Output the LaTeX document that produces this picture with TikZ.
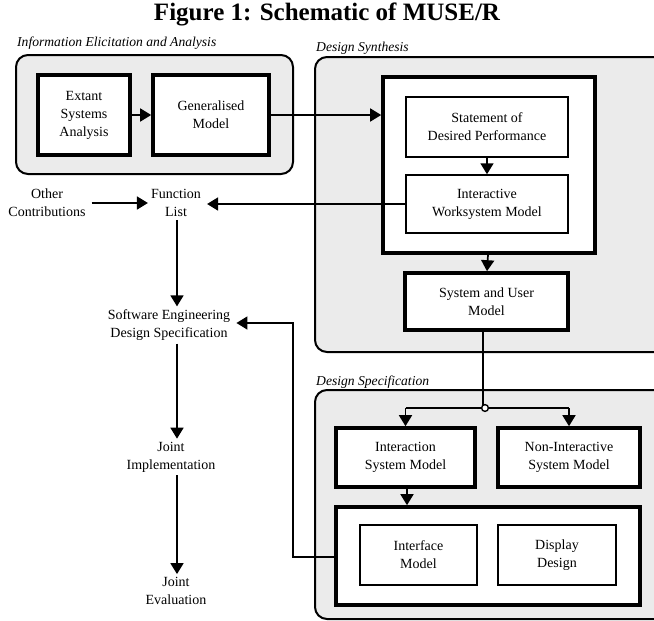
\documentclass[tikz,border=0pt]{standalone}
\usepackage{fontspec}
\setmainfont{Liberation Serif}
\usetikzlibrary{arrows.meta,calc}
\begin{document}
\begin{tikzpicture}[x=1pt,y=-1pt,
  every node/.style={font=\fontsize{14}{18}\selectfont, align=center, inner sep=0pt},
  group/.style={draw=black, line width=2pt, rounded corners=12pt, fill=gray!16},
  grouplabel/.style={anchor=west, font=\fontsize{13.6}{15}\selectfont\itshape},
  heavybox/.style={draw=black, line width=3.6pt, fill=white},
  lightbox/.style={draw=black, line width=1.5pt, fill=white},
  flow/.style={line width=1.7pt, -{Triangle[width=13pt,length=11pt]}},
  link/.style={line width=1.7pt}]
\useasboundingbox (0,0) rectangle (654,621);
\clip (0,0) rectangle (654,621);

% title
\node[font=\fontsize{25}{28}\selectfont\bfseries] (title) at (327,14) {Figure 1: Schematic of MUSE/R};

% grouping panels
\draw[group] (16,55) rectangle (293,174);
\draw[group] (315,57) rectangle (690,352);
\draw[group] (315,390) rectangle (690,619);
\node[grouplabel] (lab1) at (17,43) {Information Elicitation and Analysis};
\node[grouplabel] (lab2) at (316,48) {Design Synthesis};
\node[grouplabel] (lab3) at (316,382) {Design Specification};

% information elicitation
\node[heavybox, minimum width=92pt, minimum height=80pt] (esa) at (84,115) {Extant\\Systems\\Analysis};
\node[heavybox, minimum width=116pt, minimum height=80pt] (gm) at (211,115) {Generalised\\Model};

% design synthesis
\node[heavybox, minimum width=212pt, minimum height=176pt] (synth) at (489,165) {};
\node[lightbox, minimum width=162pt, minimum height=60pt] (sdp) at (487,127) {Statement of\\Desired Performance};
\node[lightbox, minimum width=162pt, minimum height=58pt] (iwm) at (487,204) {Interactive\\Worksystem Model};
\node[heavybox, minimum width=163pt, minimum height=57pt] (sum) at (486.5,301.5) {System and User\\Model};

% design specification
\node[heavybox, minimum width=139pt, minimum height=59pt] (ism) at (405.5,457.5) {Interaction\\System Model};
\node[heavybox, minimum width=142pt, minimum height=59pt] (nism) at (569,457.5) {Non-Interactive\\System Model};
\node[heavybox, minimum width=304pt, minimum height=98pt] (ui) at (488,556) {};
\node[lightbox, minimum width=117pt, minimum height=60pt] (im) at (418.5,555) {Interface\\Model};
\node[lightbox, minimum width=118pt, minimum height=60pt] (dd) at (557,555) {Display\\Design};

% left-hand column
\node (oc) at (47,203) {Other\\Contributions};
\node (fl) at (176,203) {Function\\List};
\node (seds) at (169,325) {Software Engineering\\Design Specification};
\node (ji) at (171,457) {Joint\\Implementation};
\node (je) at (176,591) {Joint\\Evaluation};

% connectors
\draw[flow] (esa.east) -- (gm.west);
\draw[flow] (gm.east) -- (gm.east -| synth.west);
\draw[flow] (sdp.south) -- (iwm.north);
\draw[flow] ($(synth.south)+(-1,0)$) -- ($(sum.north)+(0.5,0)$);
\draw[flow] (iwm.west) -- ($(iwm.west -| fl.east)+(6,0)$);
\draw[flow] ($(oc.east)+(6,0)$) -- ($(fl.west)+(-3,0)$);
\draw[flow] ($(fl.south)+(1,3)$) -- ($(seds.north)+(8,-3)$);
\draw[flow] ($(seds.south)+(8,3)$) -- ($(ji.north)+(6,-3)$);
\draw[flow] ($(ji.south)+(6,3)$) -- ($(je.north)+(1,-3)$);

% fan-out to the interaction and non-interactive models
\coordinate (split) at (485,408);
\draw[link] ($(sum.south)+(-3.5,0)$) |- (split);
\draw[link] (split -| ism.north) -- (split -| nism.north);
\draw[flow] (split -| ism.north) -- (ism.north);
\draw[flow] (split -| nism.north) -- (nism.north);
\draw[line width=1.4pt, fill=white] (split) circle (3.4pt);

\draw[flow] ($(ism.south)+(1.5,0)$) -- ($(ui.north)+(-81,0)$);

% feedback from the interface design
\coordinate (bend) at (293,557);
\draw[flow] (ui.west |- bend) -- (bend) |- ($(seds.east)+(6,-2)$);
\end{tikzpicture}
\end{document}
